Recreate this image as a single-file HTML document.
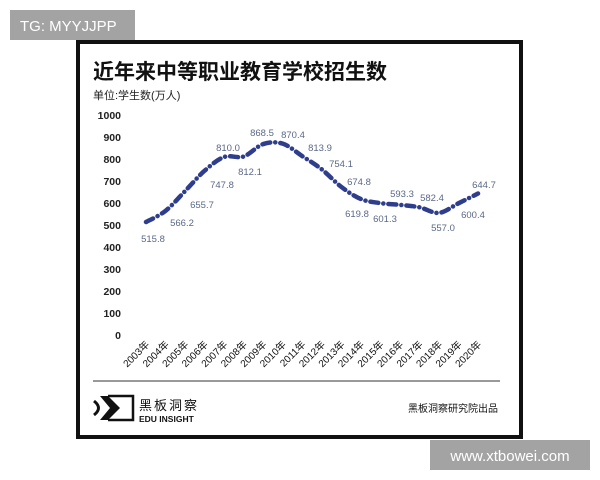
<!DOCTYPE html>
<html><head><meta charset="utf-8"><style>
body{margin:0;width:600px;height:480px;background:#fff;overflow:hidden;font-family:"Liberation Sans","Noto Sans CJK SC",sans-serif}
</style></head><body>
<svg width="600" height="480" viewBox="0 0 600 480" xmlns="http://www.w3.org/2000/svg" style="position:absolute;left:0;top:0">
<rect x="10" y="10" width="125" height="30" fill="#a3a3a3"/>
<text x="20" y="31" font-size="15" fill="#fff" font-family="Liberation Sans,sans-serif">TG: MYYJJPP</text>
<rect x="78" y="42" width="443" height="395" fill="#fff" stroke="#111" stroke-width="4"/>
<text x="93" y="79" font-size="21" font-weight="bold" fill="#111" font-family="Liberation Sans,Noto Sans CJK SC,sans-serif">近年来中等职业教育学校招生数</text>
<text x="93" y="99" font-size="11" fill="#222" font-family="Liberation Sans,Noto Sans CJK SC,sans-serif">单位:学生数(万人)</text>
<g font-size="10.5" font-weight="bold" fill="#222" text-anchor="end" font-family="Liberation Sans,sans-serif">
<text x="121" y="119">1000</text><text x="121" y="141">900</text><text x="121" y="163">800</text><text x="121" y="185">700</text><text x="121" y="207">600</text><text x="121" y="229">500</text><text x="121" y="251">400</text><text x="121" y="273">300</text><text x="121" y="295">200</text><text x="121" y="317">100</text><text x="121" y="339">0</text>
</g>
<path id="ln" fill="none" stroke="#2e3d8c" stroke-width="4.5" stroke-linecap="round" stroke-dasharray="8 5 0.1 5" d=""/>
<g id="lbl" font-size="9.5" fill="#5a6888" text-anchor="middle" font-family="Liberation Sans,sans-serif"></g>
<g id="xl" font-size="10" fill="#111" text-anchor="end" font-family="Liberation Sans,Noto Sans CJK SC,sans-serif"></g>
<line x1="93" y1="381" x2="500" y2="381" stroke="#333" stroke-width="1"/>
<path d="M94 396 L108 396 L120 408 L108 420 L94 420 L100 420 L110 408 L100 396Z" fill="#111"/>
<path d="M94 401 Q103 408 94 415" fill="none" stroke="#111" stroke-width="3"/>
<path d="M108 396 L133 396 L133 420 L108 420" fill="none" stroke="#111" stroke-width="2.5"/>
<text x="139" y="410" font-size="13" letter-spacing="2" fill="#111" font-family="Liberation Sans,Noto Sans CJK SC,sans-serif">黑板洞察</text>
<text x="139" y="422" font-size="8.5" font-weight="bold" fill="#111" font-family="Liberation Sans,sans-serif">EDU INSIGHT</text>
<text x="498" y="412" font-size="10" text-anchor="end" fill="#111" font-family="Liberation Sans,Noto Sans CJK SC,sans-serif">黑板洞察研究院出品</text>
<rect x="430" y="440" width="160" height="30" fill="#a3a3a3"/>
<text x="510" y="461" font-size="15" text-anchor="middle" fill="#fff" font-family="Liberation Sans,sans-serif">www.xtbowei.com</text>
</svg>
<script>
var v=[515.8,566.2,655.7,747.8,810.0,812.1,868.5,870.4,813.9,754.1,674.8,619.8,601.3,593.3,582.4,557.0,600.4,644.7];
var P=v.map(function(d,i){return [146+i*19.53,336-d*0.221];});
var d="M"+P[0][0]+" "+P[0][1];
for(var i=0;i<P.length-1;i++){var p0=P[i-1]||P[i],p1=P[i],p2=P[i+1],p3=P[i+2]||p2;
d+=" C"+(p1[0]+(p2[0]-p0[0])/6)+" "+(p1[1]+(p2[1]-p0[1])/6)+" "+(p2[0]-(p3[0]-p1[0])/6)+" "+(p2[1]-(p3[1]-p1[1])/6)+" "+p2[0]+" "+p2[1];}
document.getElementById("ln").setAttribute("d",d);
var L=[[153,239],[182,223],[202,205],[222,185],[228,148],[250,172],[262,133],[293,135],[320,148],[341,164],[359,182],[357,214],[385,219],[402,194],[432,198],[443,228],[473,215],[484,185]];
var s="";L.forEach(function(l,i){s+='<text x="'+l[0]+'" y="'+(l[1]+3)+'">'+v[i].toFixed(1)+'</text>';});
document.getElementById("lbl").innerHTML=s;
var x="";for(var i=0;i<18;i++){var cx=P[i][0]+4;x+='<text transform="translate('+cx+',345) rotate(-45)">'+(2003+i)+'年</text>';}
document.getElementById("xl").innerHTML=x;
</script>
</body></html>
